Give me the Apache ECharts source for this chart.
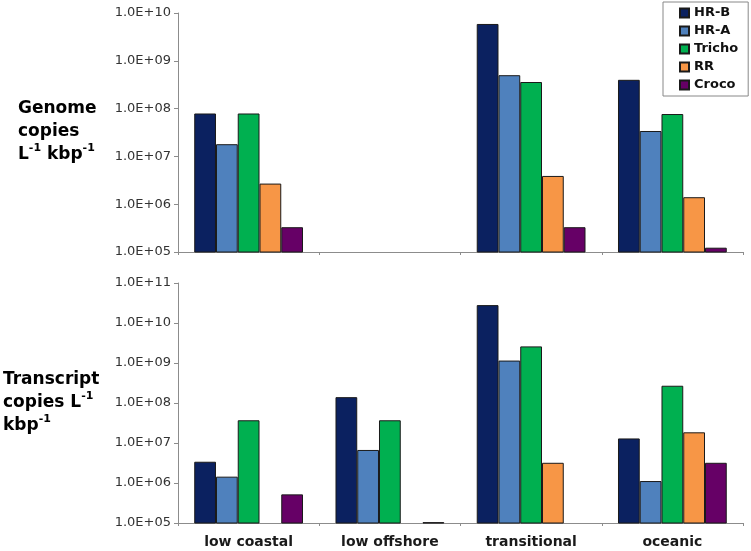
<!DOCTYPE html>
<html>
<head>
<meta charset="utf-8">
<script src="https://cdn.jsdelivr.net/npm/echarts@6/dist/echarts.min.js"></script>
<style>html,body{margin:0;padding:0;background:#fff}#c{width:751px;height:551px}</style>
</head>
<body>
<div id="c"></div>
<script>
const categories = ['low coastal', 'low offshore', 'transitional', 'oceanic'];
const seriesNames = ['HR-B', 'HR-A', 'Tricho', 'RR', 'Croco'];
const genomeHRB = [7.9e7, null, 5.9e9, 4.0e8];
const genomeHRA = [1.8e7, null, 5.0e8, 3.4e7];
const genomeTricho = [7.9e7, null, 3.6e8, 7.7e7];
const genomeRR = [2.7e6, null, 3.9e6, 1.4e6];
const genomeCroco = [3.3e5, null, 3.3e5, 1.23e5];
const transcriptHRB = [3.4e6, 1.4e8, 2.8e10, 1.3e7];
const transcriptHRA = [1.44e6, 6.7e6, 1.15e9, 1.12e6];
const transcriptTricho = [3.7e7, 3.7e7, 2.6e9, 2.7e8];
const transcriptRR = [null, null, 3.2e6, 1.85e7];
const transcriptCroco = [5.2e5, 1.05e5, null, 3.2e6];
const genomeYMin = 1e5, genomeYMax = 1e10;
const transcriptYMin = 1e5, transcriptYMax = 1e11;

const colors = ['#0b2160', '#4f81bd', '#00b050', '#f79646', '#660066'];
const genomeData = [genomeHRB, genomeHRA, genomeTricho, genomeRR, genomeCroco];
const transcriptData = [transcriptHRB, transcriptHRA, transcriptTricho, transcriptRR, transcriptCroco];

const FONT = 'DejaVu Sans';
const fmt = v => '1.0E+' + String(Math.round(Math.log10(v))).padStart(2, '0');

function xAxis(gi, showLabel) {
  return {
    type: 'category', gridIndex: gi, data: categories,
    axisLine: { lineStyle: { color: '#8c8c8c', width: 1 } },
    axisTick: { show: true, length: 3, lineStyle: { color: '#8c8c8c' } },
    axisLabel: { show: showLabel, fontFamily: FONT, fontWeight: 'bold', fontSize: 14, color: '#1a1a1a', margin: 12 },
    splitLine: { show: false }
  };
}
function yAxis(gi, min, max) {
  return {
    type: 'log', logBase: 10, gridIndex: gi, min: min, max: max,
    axisLine: { show: true, lineStyle: { color: '#8c8c8c', width: 1 } },
    axisTick: { show: true, length: 4, lineStyle: { color: '#8c8c8c' } },
    axisLabel: { formatter: fmt, fontFamily: FONT, fontSize: 13, color: '#333', margin: 7 },
    splitLine: { show: false },
    minorTick: { show: false }
  };
}

const series = [];
seriesNames.forEach((n, i) => {
  series.push({
    name: n, type: 'bar', xAxisIndex: 0, yAxisIndex: 0, data: genomeData[i],
    barGap: '0%', barCategoryGap: '23%',
    itemStyle: { color: colors[i], borderColor: '#1a1a1a', borderWidth: 1 }
  });
});
seriesNames.forEach((n, i) => {
  series.push({
    name: n, type: 'bar', xAxisIndex: 1, yAxisIndex: 1, data: transcriptData[i],
    barGap: '0%', barCategoryGap: '23%',
    itemStyle: { color: colors[i], borderColor: '#1a1a1a', borderWidth: 1 }
  });
});

const supRich = {
  b: { fontFamily: FONT, fontWeight: 'bold', fontSize: 17, color: '#111', lineHeight: 23 },
  s: { fontFamily: FONT, fontWeight: 'bold', fontSize: 11, color: '#111', lineHeight: 23, verticalAlign: 'top', padding: [0, 0, 6, 0] }
};

const chart = echarts.init(document.getElementById('c'));
chart.setOption({
  animation: false,
  backgroundColor: '#fff',
  grid: [
    { left: 178, top: 13, width: 565, height: 239 },
    { left: 178, top: 283, width: 565, height: 240 }
  ],
  xAxis: [xAxis(0, false), xAxis(1, true)],
  yAxis: [yAxis(0, genomeYMin, genomeYMax), yAxis(1, transcriptYMin, transcriptYMax)],
  legend: {
    data: seriesNames, orient: 'vertical', left: 663, top: 2,
    borderColor: '#888', borderWidth: 1, padding: [4, 10, 4, 16],
    itemWidth: 9, itemHeight: 9, itemGap: 4, icon: 'rect',
    textStyle: { fontFamily: FONT, fontWeight: 'bold', fontSize: 13, color: '#111', lineHeight: 14 }
  },
  graphic: [
    { type: 'text', left: 18, top: 100, style: { text: '{b|Genome}\n{b|copies}\n{b|L}{s|-1}{b| kbp}{s|-1}', rich: supRich } },
    { type: 'text', left: 3, top: 371, style: { text: '{b|Transcript}\n{b|copies L}{s|-1}\n{b|kbp}{s|-1}', rich: supRich } }
  ],
  series: series
});
</script>
</body>
</html>
